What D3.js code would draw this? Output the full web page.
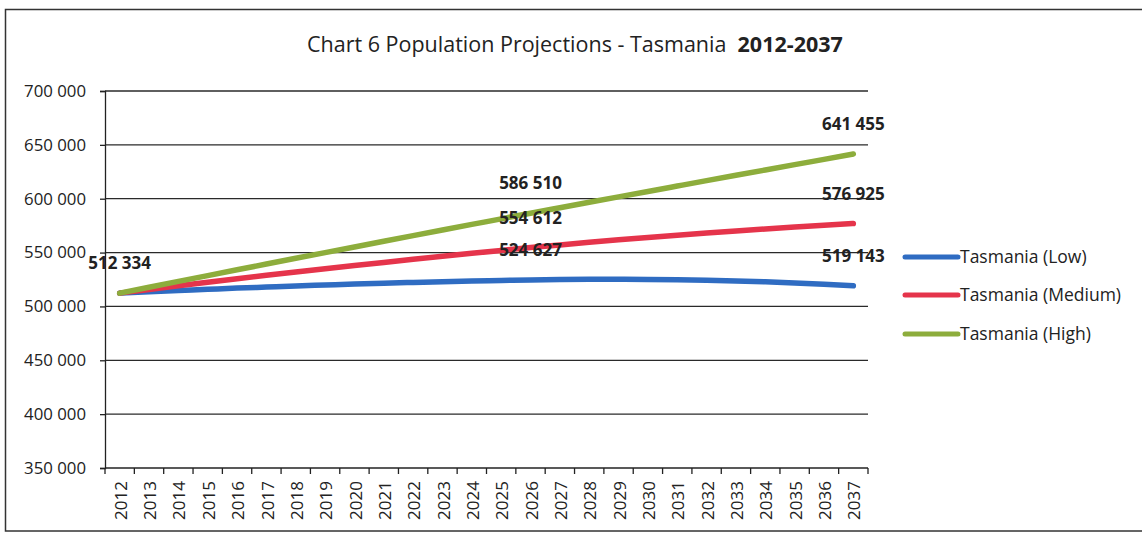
<!DOCTYPE html>
<html>
<head>
<meta charset="utf-8">
<script src="https://cdn.jsdelivr.net/npm/d3@7"></script>
<style>
  body { margin: 0; background: #fff; }
  svg { display: block; font-family: "Open Sans", "Noto Sans", sans-serif; }
</style>
</head>
<body>
<svg id="chart" width="1142" height="534"></svg>
<script>
// Projection years
const years = [2012, 2013, 2014, 2015, 2016, 2017, 2018, 2019, 2020, 2021, 2022, 2023, 2024,
  2025, 2026, 2027, 2028, 2029, 2030, 2031, 2032, 2033, 2034, 2035, 2036, 2037];

// Projected population, one value per year
const lowSeries = [512334, 513600, 514800, 515900, 517000, 518000, 519000, 519900, 520800, 521600,
  522300, 523000, 523600, 524100, 524627, 524950, 525150, 525200, 525100, 524800, 524300, 523600,
  522800, 521800, 520600, 519143];
const mediumSeries = [512334, 515780, 519180, 522530, 525780, 528930, 532030, 535030, 537980, 540880,
  543730, 546530, 549280, 551980, 554612, 557110, 559510, 561810, 564010, 566110, 568110, 570060,
  571910, 573660, 575360, 576925];
const highSeries = [512334, 517780, 523210, 528610, 533990, 539340, 544660, 549960, 555240, 560500,
  565740, 570950, 576140, 581310, 586510, 591610, 596690, 601740, 606770, 611770, 616760, 621730,
  626680, 631610, 636530, 641455];

const seriesNames = ["Tasmania (Low)", "Tasmania (Medium)", "Tasmania (High)"];
const seriesColors = ["#2f6cc2", "#e5344b", "#8dad3c"];

// Value axis ticks
const yTicks = [350000, 400000, 450000, 500000, 550000, 600000, 650000, 700000];

// Points that carry a value label: [series index, year]
const labelledPoints = [[2, 2012], [0, 2026], [1, 2026], [2, 2026], [0, 2037], [1, 2037], [2, 2037]];

const titleMain = "Chart 6 Population Projections - Tasmania\u00a0\u00a0";
const titleYears = "2012-2037";

const allSeries = [lowSeries, mediumSeries, highSeries];
const fmt = v => d3.format(",")(v).replace(/,/g, " ");
const ink = "#222";

const svg = d3.select("#chart");

// Outer chart frame
svg.append("rect")
  .attr("x", 5.5).attr("y", 9.5)
  .attr("width", 1150).attr("height", 521.5)
  .attr("fill", "#fff").attr("stroke", "#333").attr("stroke-width", 1.5);

const plot = { left: 105, right: 868, top: 91, bottom: 468 };

const x = d3.scaleBand().domain(years).range([plot.left, plot.right]);
const y = d3.scaleLinear().domain([350000, 700000]).range([plot.bottom, plot.top]);

// Title
const title = svg.append("text")
  .attr("x", 307).attr("y", 52)
  .attr("font-size", 21.5).attr("fill", ink);
title.append("tspan").text(titleMain);
title.append("tspan").attr("font-weight", "bold").text(titleYears);

// Horizontal gridlines
svg.append("g").selectAll("line")
  .data(yTicks.slice(1))
  .join("line")
  .attr("x1", plot.left).attr("x2", plot.right)
  .attr("y1", d => y(d)).attr("y2", d => y(d))
  .attr("stroke", "#2a2a2a").attr("stroke-width", 1.3);

// Value axis
const yAxis = svg.append("g")
  .attr("transform", `translate(${plot.left},0)`)
  .call(d3.axisLeft(y).tickValues(yTicks).tickSize(5).tickPadding(14).tickFormat(fmt));
yAxis.select(".domain").attr("stroke", ink).attr("stroke-width", 1.3);
yAxis.selectAll(".tick line").attr("stroke", ink).attr("stroke-width", 1.3);
yAxis.selectAll(".tick text").attr("font-size", 16.8).attr("fill", ink)
  .attr("font-family", "\"Open Sans\", sans-serif");

// Category axis: baseline, boundary ticks, rotated year labels
const xAxis = svg.append("g").attr("transform", `translate(0,${plot.bottom})`);
xAxis.append("line")
  .attr("x1", plot.left).attr("x2", plot.right)
  .attr("stroke", ink).attr("stroke-width", 1.3);
const boundaries = years.map(d => x(d)).concat([x(years[years.length - 1]) + x.bandwidth()]);
xAxis.selectAll("line.tick")
  .data(boundaries)
  .join("line").attr("class", "tick")
  .attr("x1", d => d).attr("x2", d => d)
  .attr("y1", 0).attr("y2", 6)
  .attr("stroke", ink).attr("stroke-width", 1.3);
xAxis.selectAll("text")
  .data(years)
  .join("text")
  .attr("transform", d => `translate(${x(d) + x.bandwidth() / 2 + 1},13) rotate(-90)`)
  .attr("text-anchor", "end")
  .attr("dy", "0.36em")
  .attr("font-size", 17).attr("fill", ink)
  .text(d => d);

// Projection lines
const line = d3.line()
  .x((d, i) => x(years[i]) + x.bandwidth() / 2)
  .y(d => y(d))
  .curve(d3.curveMonotoneX);

svg.append("g").selectAll("path")
  .data(allSeries)
  .join("path")
  .attr("d", line)
  .attr("fill", "none")
  .attr("stroke", (d, i) => seriesColors[i])
  .attr("stroke-width", 5.5)
  .attr("stroke-linecap", "round")
  .attr("stroke-linejoin", "round");

// Value labels
svg.append("g").selectAll("text")
  .data(labelledPoints)
  .join("text")
  .attr("x", d => x(d[1]) + x.bandwidth() / 2)
  .attr("y", d => y(allSeries[d[0]][years.indexOf(d[1])]) - 24)
  .attr("text-anchor", "middle")
  .attr("font-size", 17).attr("font-weight", "bold").attr("fill", ink)
  .text(d => fmt(allSeries[d[0]][years.indexOf(d[1])]));

// Legend
const legendY = [257, 295, 334];
const legend = svg.append("g").selectAll("g")
  .data(seriesNames)
  .join("g")
  .attr("transform", (d, i) => `translate(905,${legendY[i]})`);
legend.append("line")
  .attr("x1", 0).attr("x2", 53)
  .attr("stroke", (d, i) => seriesColors[i])
  .attr("stroke-width", 5).attr("stroke-linecap", "round");
legend.append("text")
  .attr("x", 55).attr("dy", "0.36em")
  .attr("font-size", 17.5).attr("fill", ink)
  .text(d => d);
</script>
</body>
</html>
